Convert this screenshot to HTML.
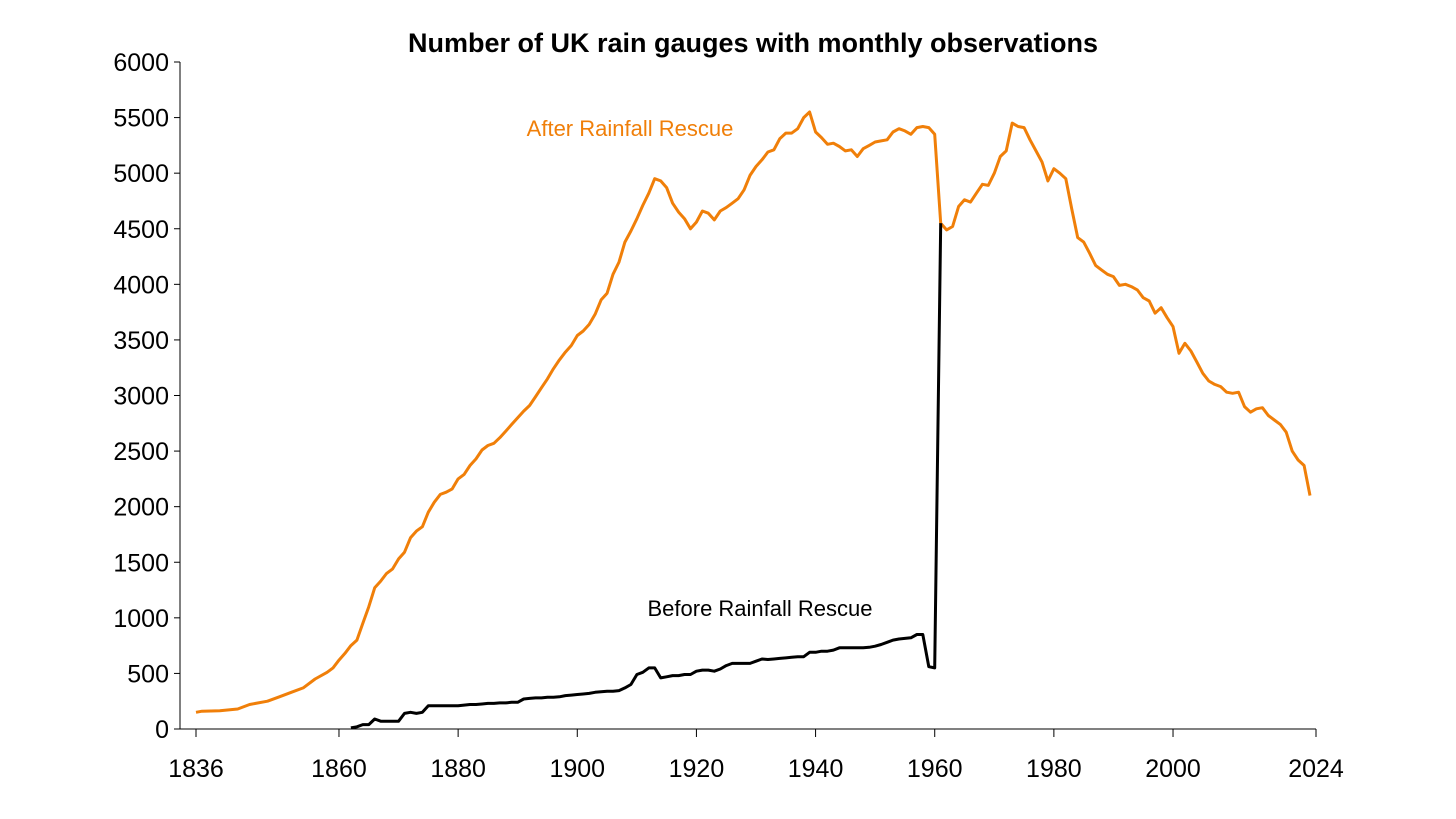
<!DOCTYPE html>
<html><head><meta charset="utf-8"><style>
html,body{margin:0;padding:0;background:#fff;}
svg{display:block;font-family:"Liberation Sans",Arial,sans-serif;}
</style></head><body>
<svg id="chart" width="1456" height="819" viewBox="0 0 1456 819">
<text x="753" y="52" text-anchor="middle" font-size="27" font-weight="bold" fill="#000">Number of UK rain gauges with monthly observations</text>
<g id="axes"></g>
<g id="series"></g>
<text x="630" y="136" text-anchor="middle" font-size="22" fill="#f07f09">After Rainfall Rescue</text>
<text x="760" y="616" text-anchor="middle" font-size="22" fill="#000">Before Rainfall Rescue</text>
</svg>
<script>
const afterYears = [1836,1837,1840,1843,1845,1846,1848,1850,1852,1854,1856,1858,1859,1860,1861,1862,1863,1864,1865,1866,1867,1868,1869,1870,1871,1872,1873,1874,1875,1876,1877,1878,1879,1880,1881,1882,1883,1884,1885,1886,1887,1888,1889,1890,1891,1892,1893,1894,1895,1896,1897,1898,1899,1900,1901,1902,1903,1904,1905,1906,1907,1908,1909,1910,1911,1912,1913,1914,1915,1916,1917,1918,1919,1920,1921,1922,1923,1924,1925,1926,1927,1928,1929,1930,1931,1932,1933,1934,1935,1936,1937,1938,1939,1940,1941,1942,1943,1944,1945,1946,1947,1948,1949,1950,1951,1952,1953,1954,1955,1956,1957,1958,1959,1960,1961,1962,1963,1964,1965,1966,1967,1968,1969,1970,1971,1972,1973,1974,1975,1976,1977,1978,1979,1980,1981,1982,1983,1984,1985,1986,1987,1988,1989,1990,1991,1992,1993,1994,1995,1996,1997,1998,1999,2000,2001,2002,2003,2004,2005,2006,2007,2008,2009,2010,2011,2012,2013,2014,2015,2016,2017,2018,2019,2020,2021,2022,2023];
const afterValues = [150,160,165,180,220,230,250,290,330,370,450,510,550,620,680,750,800,950,1100,1270,1330,1400,1440,1530,1590,1720,1780,1820,1950,2040,2110,2130,2160,2250,2290,2370,2430,2510,2550,2570,2620,2680,2740,2800,2860,2910,2990,3070,3150,3240,3320,3390,3450,3540,3580,3640,3730,3860,3920,4090,4200,4380,4480,4590,4710,4820,4950,4930,4870,4730,4650,4590,4500,4560,4660,4640,4580,4660,4690,4730,4770,4850,4980,5060,5120,5190,5210,5310,5360,5360,5400,5500,5550,5370,5320,5260,5270,5240,5200,5210,5150,5220,5250,5280,5290,5300,5370,5400,5380,5350,5410,5420,5410,5350,4550,4490,4520,4700,4760,4740,4820,4900,4890,5000,5150,5200,5450,5420,5410,5300,5200,5100,4930,5040,5000,4950,4680,4420,4380,4280,4170,4130,4090,4070,3990,4000,3980,3950,3880,3850,3740,3790,3700,3620,3380,3470,3400,3300,3200,3130,3100,3080,3030,3020,3030,2900,2850,2880,2890,2820,2780,2740,2670,2500,2420,2370,2100];
const beforeYears = [1862,1863,1864,1865,1866,1867,1868,1869,1870,1871,1872,1873,1874,1875,1876,1877,1878,1879,1880,1881,1882,1883,1884,1885,1886,1887,1888,1889,1890,1891,1892,1893,1894,1895,1896,1897,1898,1899,1900,1901,1902,1903,1904,1905,1906,1907,1908,1909,1910,1911,1912,1913,1914,1915,1916,1917,1918,1919,1920,1921,1922,1923,1924,1925,1926,1927,1928,1929,1930,1931,1932,1933,1934,1935,1936,1937,1938,1939,1940,1941,1942,1943,1944,1945,1946,1947,1948,1949,1950,1951,1952,1953,1954,1955,1956,1957,1958,1959,1960,1961];
const beforeValues = [10,20,40,40,90,70,70,70,70,140,150,140,150,210,210,210,210,210,210,215,220,220,225,230,230,235,235,240,240,270,275,280,280,285,285,290,300,305,310,315,320,330,335,340,340,345,370,400,490,510,550,550,460,470,480,480,490,490,520,530,530,520,540,570,590,590,590,590,610,630,625,630,635,640,645,650,650,690,690,700,700,710,730,730,730,730,730,735,745,760,780,800,810,815,820,850,850,560,550,4550];
const yTicks = [0,500,1000,1500,2000,2500,3000,3500,4000,4500,5000,5500,6000];
const xTicks = [1836,1860,1880,1900,1920,1940,1960,1980,2000,2024];

const NS = "http://www.w3.org/2000/svg";
const X0 = 196, X1 = 1316, Y0 = 729, Y1 = 62;
function xs(yr){ return X0 + (yr - 1836) * (X1 - X0) / (2024 - 1836); }
function ys(v){ return Y0 - v * (Y0 - Y1) / 6000; }
function mk(tag, attrs, parent){ const e = document.createElementNS(NS, tag); for (const k in attrs) e.setAttribute(k, attrs[k]); parent.appendChild(e); return e; }

const axes = document.getElementById('axes');
const ya = mk('line', {x1:180, y1:Y1, x2:180, y2:Y0, stroke:'#000', 'stroke-width':1}, axes);


const xa = mk('line', {x1:180, y1:Y0, x2:X1, y2:Y0, stroke:'#000', 'stroke-width':1}, axes);


yTicks.forEach(v => {
  const y = ys(v);
  mk('line', {x1:174, y1:y, x2:180, y2:y, stroke:'#000'}, axes);
  const t = mk('text', {x:169, y:y + 9, 'text-anchor':'end', 'font-size':25, fill:'#000'}, axes);
  t.textContent = v;
  
  
});
xTicks.forEach(yr => {
  const x = xs(yr);
  mk('line', {x1:x, y1:Y0, x2:x, y2:Y0 + 8, stroke:'#000'}, axes);
  const t = mk('text', {x:x, y:777, 'text-anchor':'middle', 'font-size':25, fill:'#000'}, axes);
  t.textContent = yr;
  
  
});

const series = document.getElementById('series');
function line(years, vals){
  return years.map((yr, i) => (i ? 'L' : 'M') + xs(yr).toFixed(1) + ' ' + ys(vals[i]).toFixed(1)).join(' ');
}
const pa = mk('path', {d: line(afterYears, afterValues), fill:'none', stroke:'#f07f09', 'stroke-width':3, 'stroke-linejoin':'round'}, series);


const pb = mk('path', {d: line(beforeYears, beforeValues), fill:'none', stroke:'#000', 'stroke-width':3, 'stroke-linejoin':'round'}, series);


</script>
</body></html>
